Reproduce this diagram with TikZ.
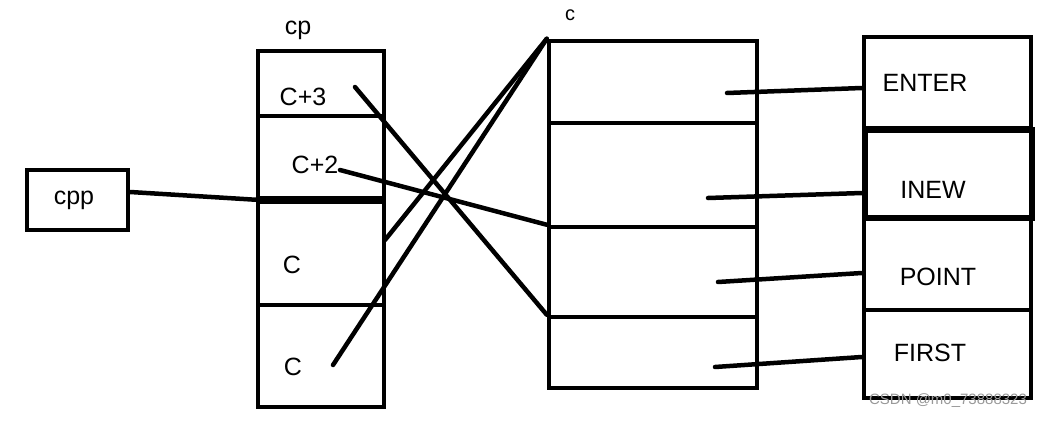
\documentclass[tikz,border=0pt]{standalone}
\usepackage{fontspec}
\setmainfont{Liberation Sans}
\begin{document}
\begin{tikzpicture}[x=1pt,y=-1pt,
  cell/.style={draw,line width=4.5pt,rectangle,inner sep=0pt},
  lbl/.style={font=\fontsize{25}{30}\selectfont,inner sep=0pt},
  wire/.style={line width=4.5pt,line cap=round}]
\useasboundingbox (0,0) rectangle (1051,420);
% cpp box
\node[cell,minimum width=101pt,minimum height=60pt] (cpp) at (77.5,200) {};
\node[lbl] (tcpp) at (74,200) {cpp};
% cp stack
\node[cell,minimum width=126pt,minimum height=65pt] (cpA) at (321,83.5) {};
\node[cell,minimum width=126pt,minimum height=86pt] (cpB) at (321,159) {};
\node[cell,minimum width=126pt,minimum height=103pt] (cpC) at (321,253.5) {};
\node[cell,minimum width=126pt,minimum height=102pt] (cpD) at (321,356) {};
\draw[line width=7pt] (cpC.north west) -- (cpC.north east);
\node[lbl] (tcp) at (298,30) {cp};
\node[lbl] (tA) at (303,97) {C+3};
\node[lbl] (tB) at (315,165) {C+2};
\node[lbl] (tC) at (292,265) {C};
\node[lbl] (tD) at (293,367) {C};
% c stack
\node[cell,minimum width=208pt,minimum height=82pt] (c1) at (653,82) {};
\node[cell,minimum width=208pt,minimum height=104pt] (c2) at (653,175) {};
\node[cell,minimum width=208pt,minimum height=90pt] (c3) at (653,272) {};
\node[cell,minimum width=208pt,minimum height=71pt] (c4) at (653,352.5) {};
\node[lbl,font=\fontsize{20}{24}\selectfont] (tc) at (570,15) {c};
% right stack
\node[cell,minimum width=167pt,minimum height=91pt] (r1) at (947.5,82.5) {};
\node[cell,minimum width=167pt,minimum height=92pt] (r3) at (947.5,264) {};
\node[cell,minimum width=167pt,minimum height=88pt] (r4) at (947.5,354) {};
\node[cell,line width=6pt,minimum width=167pt,minimum height=88pt] (r2) at (948.5,174) {};
\node[lbl] (tr1) at (925,83) {ENTER};
\node[lbl] (tr2) at (933,190) {INEW};
\node[lbl] (tr3) at (938,277) {POINT};
\node[lbl] (tr4) at (930,353) {FIRST};
% free ends
\coordinate (a3) at (355,87);
\coordinate (a2) at (340,170);
\coordinate (a1) at (385,240);
\coordinate (a0) at (333,365);
\coordinate (e1) at (727,93);
\coordinate (e2) at (708,198);
\coordinate (e3) at (718,282);
\coordinate (e4) at (715,367);
% connectors
\draw[wire] ([yshift=8pt]cpp.east) -- (cpC.north west);
\draw[wire] (a3) -- (c4.north west);
\draw[wire] (a2) -- (c3.north west);
\draw[wire] (a1) -- (c1.north west);
\draw[wire] (a0) -- (c1.north west);
\draw[wire] (e1) -- ([yshift=-5.5pt]r1.west);
\draw[wire] (e2) -- ([yshift=-19pt]r2.west);
\draw[wire] (e3) -- ([yshift=-9pt]r3.west);
\draw[wire] (e4) -- ([yshift=-3pt]r4.west);
% watermark
\node[font=\fontsize{15}{18}\selectfont,text=gray!80,inner sep=0pt] (wm) at (948,401) {CSDN @m0\_73888323};
\end{tikzpicture}
\end{document}
